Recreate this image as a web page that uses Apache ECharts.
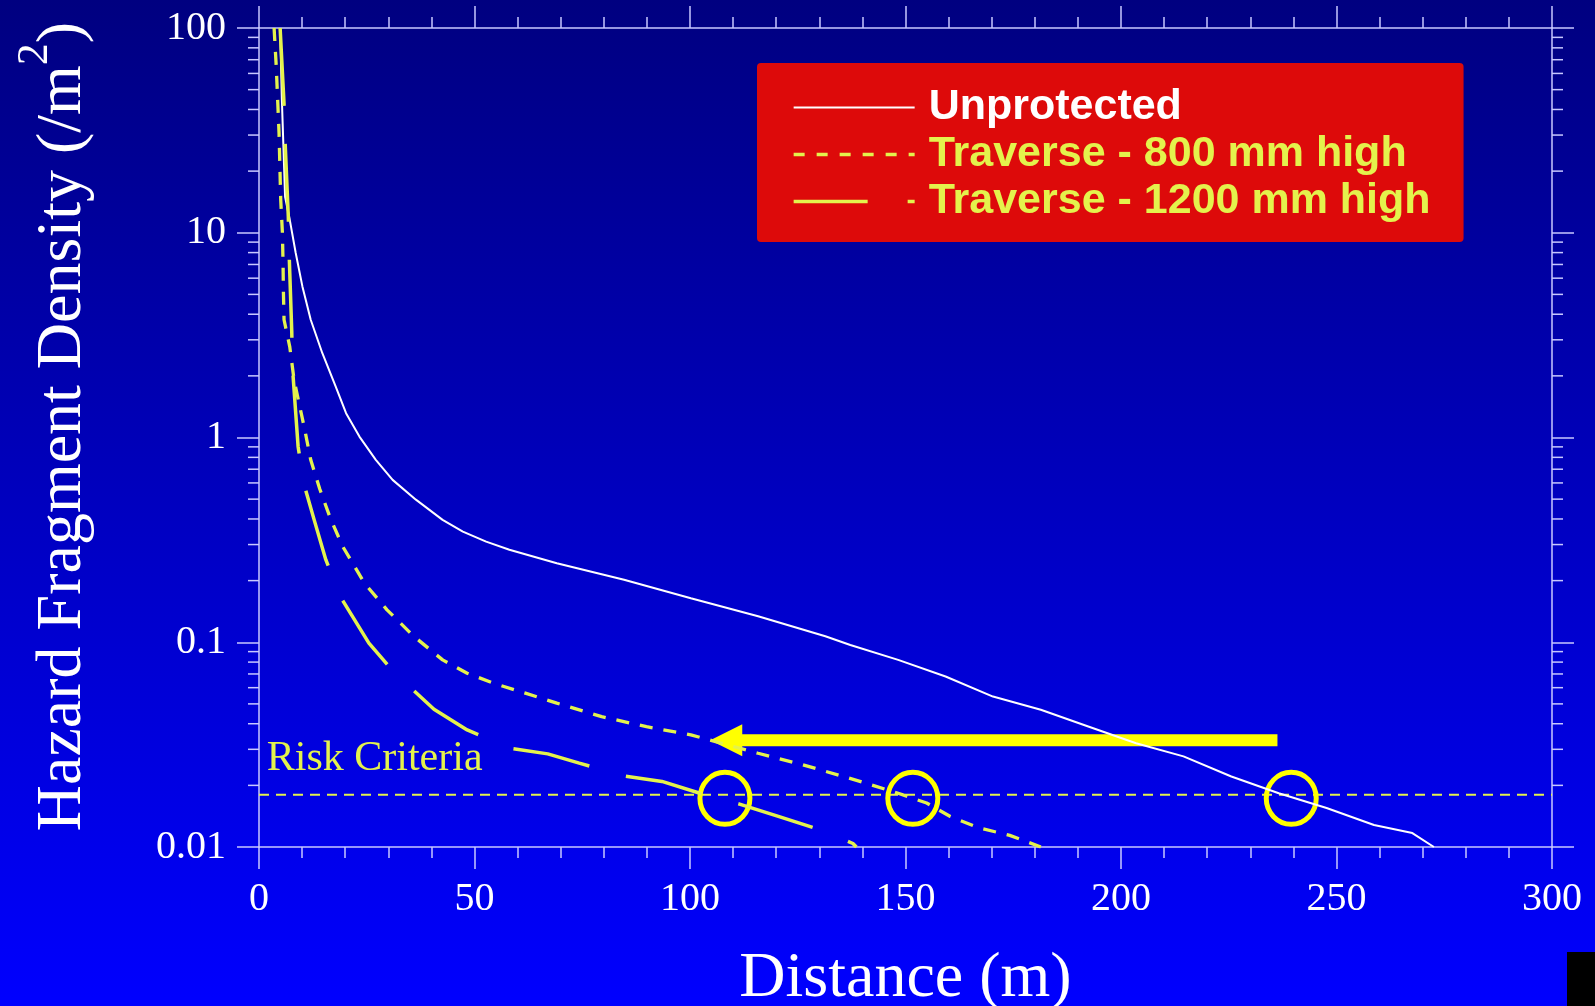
<!DOCTYPE html>
<html>
<head>
<meta charset="utf-8">
<script src="https://cdn.jsdelivr.net/npm/echarts@6/dist/echarts.min.js"></script>
<style>
html,body{margin:0;padding:0;background:#000080;}
#chart{width:1595px;height:1006px;}
</style>
</head>
<body>
<div id="chart"></div>
<script>
// ---- data ----
const distanceTicks = [0, 50, 100, 150, 200, 250, 300];
const densityTicks = [0.01, 0.1, 1, 10, 100];
const densityTickLabels = ['0.01', '0.1', '1', '10', '100'];
const densityMinorTicks = [0.02,0.03,0.04,0.05,0.06,0.07,0.08,0.09,
                           0.2,0.3,0.4,0.5,0.6,0.7,0.8,0.9,
                           2,3,4,5,6,7,8,9,
                           20,30,40,50,60,70,80,90];

const seriesNames = ['Unprotected', 'Traverse - 800 mm high', 'Traverse - 1200 mm high'];

const unprotectedDistance = [4.9,5.3,6.05,7.13,8.52,10.07,12.0,14.7,17.8,20.2,23.3,27.1,31.0,36.4,42.6,47.3,52.7,58.1,69.1,84.7,100.2,115.8,131.4,137.2,148.3,159.3,170.3,181.4,192.4,203.5,214.5,225.6,236.6,247.7,258.7,267.6,272.6];
const unprotectedDensity  = [100,45,15,11.6,7.96,5.47,3.76,2.58,1.77,1.315,1.01,0.778,0.621,0.497,0.396,0.347,0.31,0.283,0.243,0.202,0.164,0.134,0.107,0.097,0.082,0.068,0.0543,0.0468,0.0388,0.0321,0.0277,0.0221,0.0183,0.0155,0.0128,0.0117,0.01];

const traverse800Distance = [3.5,4.0,4.65,5.04,5.43,5.58,5.66,5.81,7.13,8.14,9.3,10.7,12.0,14.1,16.5,19.4,24.5,29.7,35.9,42.6,48.3,54.5,61.8,69.1,79.5,89.9,100.2,115.8,126.2,135.6,142.8,148.3,154.9,160.4,167,174.2,181.4];
const traverse800Density  = [100,65,30.7,14.5,10,7.1,5.17,3.76,2.78,1.91,1.47,1.07,0.778,0.56,0.406,0.294,0.194,0.144,0.107,0.082,0.0706,0.063,0.0564,0.0504,0.0433,0.0387,0.0353,0.0287,0.0252,0.0221,0.0199,0.0183,0.0164,0.0141,0.0124,0.0114,0.01];

const traverse1200Distance = [4.9,5.8,6.05,6.8,7.0,7.6,7.75,9.07,10.47,12.8,15.5,19.1,25.5,31.5,40.6,48.3,58.2,67,74.3,84.7,93.5,102.3,111.5,120.5,131.4,137.8,138.6];
const traverse1200Density  = [100,43,27.9,12,7.8,3.3,2.22,0.904,0.587,0.396,0.253,0.164,0.099,0.0706,0.0471,0.0373,0.0304,0.0285,0.0257,0.0222,0.0209,0.0183,0.0162,0.0141,0.0119,0.0104,0.01];

const riskCriterion = 0.018;
const riskLabelText = 'Risk Criteria';
const riskLabelDistance = 1.8;
const circledDistances = [108.1, 151.7, 239.5];
const circledDensity = 0.0173;
const arrowFromDistance = 236.3;
const arrowToDistance = 104.7;
const arrowDensity = 0.0332;

// ---- styles ----
const AXIS = '#c8c8ff';
const YEL = '#e4f24c';
const PURE_YEL = '#ffff00';
const SERIF = '"Liberation Serif","Times New Roman",serif';
const SANS = '"Liberation Sans",Arial,sans-serif';

const zip = (xs, ys) => xs.map((x, i) => [x, ys[i]]);
const xMin = distanceTicks[0], xMax = distanceTicks[distanceTicks.length - 1];
const yMin = densityTicks[0], yMax = densityTicks[densityTicks.length - 1];

function yLabel(v) {
  let best = 0, bd = Infinity;
  densityTicks.forEach((t, i) => { const d = Math.abs(Math.log10(v) - Math.log10(t)); if (d < bd) { bd = d; best = i; } });
  return densityTickLabels[best];
}

const chart = echarts.init(document.getElementById('chart'), null, {renderer: 'canvas'});

const xAxisCommon = {
  type: 'value', min: xMin, max: xMax, interval: 50,
  axisLine: {show: true, onZero: false, lineStyle: {color: AXIS, width: 1.5}},
  axisTick: {show: true, inside: false, length: 22, lineStyle: {color: AXIS, width: 1.5}},
  minorTick: {show: true, splitNumber: 5, length: 11, lineStyle: {color: AXIS, width: 1.5}},
  splitLine: {show: false}, minorSplitLine: {show: false}
};
const yAxisCommon = {
  type: 'log', logBase: 10, min: yMin, max: yMax, splitNumber: 4,
  axisLine: {show: true, onZero: false, lineStyle: {color: AXIS, width: 1.5}},
  axisTick: {show: true, inside: false, length: 22, lineStyle: {color: AXIS, width: 1.5}},
  splitLine: {show: false}
};

const option = {
  animation: false,
  backgroundColor: {
    type: 'linear', x: 0, y: 0, x2: 0, y2: 1,
    colorStops: [{offset: 0, color: '#000080'}, {offset: 1, color: '#0000ff'}]
  },
  grid: {left: 259, top: 28, width: 1293, height: 819, containLabel: false, outerBoundsMode: 'none'},
  legend: {
    orient: 'vertical', left: 757, top: 63,
    padding: [21, 33, 17, 35],
    backgroundColor: '#dd0a0a', borderRadius: 4,
    itemWidth: 121, itemHeight: 14, itemGap: 0,
    selectedMode: false,
    itemStyle: {opacity: 0},
    textStyle: {fontFamily: SANS, fontWeight: 'bold', fontSize: 43, lineHeight: 47, padding: [0, 0, 0, 9]},
    data: [
      {name: seriesNames[0], textStyle: {color: '#ffffff'}, itemStyle: {opacity: 0}, lineStyle: {width: 2, color: '#ffffff', type: 'solid'}},
      {name: seriesNames[1], textStyle: {color: YEL}, itemStyle: {opacity: 0}, lineStyle: {width: 3.3, color: YEL, type: [11, 12]}},
      {name: seriesNames[2], textStyle: {color: YEL}, itemStyle: {opacity: 0}, lineStyle: {width: 3.3, color: YEL, type: [74, 40]}}
    ]
  },
  xAxis: [
    Object.assign({}, xAxisCommon, {
      position: 'bottom',
      name: 'Distance (m)', nameLocation: 'middle', nameGap: 100,
      nameTextStyle: {color: '#ffffff', fontFamily: SERIF, fontSize: 64, lineHeight: 64},
      axisLabel: {show: true, color: '#ffffff', fontFamily: SERIF, fontSize: 40, lineHeight: 40, margin: 32}
    }),
    Object.assign({}, xAxisCommon, {position: 'top', axisLabel: {show: false}})
  ],
  yAxis: [
    Object.assign({}, yAxisCommon, {
      position: 'left',
      name: 'Hazard Fragment Density (/m{sup|2})', nameLocation: 'middle', nameRotate: 90, nameGap: 146,
      nameTextStyle: {
        color: '#ffffff', fontFamily: SERIF, fontSize: 64, lineHeight: 100, padding: [0, 0, 0, 22],
        rich: {sup: {color: '#ffffff', fontFamily: SERIF, fontSize: 44, lineHeight: 30, verticalAlign: 'top'}}
      },
      axisLabel: {show: true, color: '#ffffff', fontFamily: SERIF, fontSize: 40, margin: 33, formatter: yLabel}
    }),
    Object.assign({}, yAxisCommon, {position: 'right', axisLabel: {show: false}})
  ],
  graphic: [
    {type: 'rect', right: 0, bottom: 0, shape: {width: 28, height: 54}, style: {fill: '#000000'}}
  ],
  series: [
    {
      name: 'risk', type: 'line', xAxisIndex: 0, yAxisIndex: 0, z: 2,
      data: [[xMin, riskCriterion], [xMax, riskCriterion]],
      symbol: 'none', silent: true,
      lineStyle: {color: YEL, width: 2, type: [10, 7]}
    },
    {
      name: 'riskLabel', type: 'custom', xAxisIndex: 0, yAxisIndex: 0, z: 2, silent: true, clip: false,
      data: [[riskLabelDistance, riskCriterion]],
      renderItem: (params, api) => {
        const p = api.coord([api.value(0), api.value(1)]);
        return {type: 'text', x: p[0], y: p[1] - 36,
          style: {text: riskLabelText, fill: YEL, font: '42px ' + SERIF, align: 'left', verticalAlign: 'middle'}};
      }
    },
    {
      name: 'arrow', type: 'custom', xAxisIndex: 0, yAxisIndex: 0, z: 3, silent: true,
      data: [[arrowFromDistance, arrowDensity, arrowToDistance]],
      renderItem: (params, api) => {
        const tail = api.coord([api.value(0), api.value(1)]);
        const tip = api.coord([api.value(2), api.value(1)]);
        const headLen = 32, headHalf = 16, shaftHalf = 6;
        const y = tip[1];
        return {type: 'group', children: [
          {type: 'rect', shape: {x: tip[0] + headLen - 1, y: y - shaftHalf, width: tail[0] - tip[0] - headLen + 1, height: shaftHalf * 2},
            style: {fill: PURE_YEL}},
          {type: 'polygon', shape: {points: [[tip[0], y], [tip[0] + headLen, y - headHalf], [tip[0] + headLen, y + headHalf]]},
            style: {fill: PURE_YEL}}
        ]};
      }
    },
    {
      name: 'circles', type: 'custom', xAxisIndex: 0, yAxisIndex: 0, z: 3, silent: true,
      data: circledDistances.map(d => [d, circledDensity]),
      renderItem: (params, api) => {
        const p = api.coord([api.value(0), api.value(1)]);
        return {type: 'ellipse', shape: {cx: p[0], cy: p[1], rx: 25, ry: 26},
          style: {fill: 'none', stroke: PURE_YEL, lineWidth: 5}};
      }
    },
    {
      name: seriesNames[0], type: 'line', xAxisIndex: 0, yAxisIndex: 0, z: 4,
      data: zip(unprotectedDistance, unprotectedDensity),
      symbol: 'none', showSymbol: false, silent: true,
      itemStyle: {color: '#ffffff'},
      lineStyle: {color: '#ffffff', width: 2}
    },
    {
      name: seriesNames[1], type: 'line', xAxisIndex: 0, yAxisIndex: 0, z: 4,
      data: zip(traverse800Distance, traverse800Density),
      symbol: 'none', showSymbol: false, silent: true,
      itemStyle: {color: YEL},
      lineStyle: {color: YEL, width: 3.3, type: [13, 11]}
    },
    {
      name: seriesNames[2], type: 'line', xAxisIndex: 0, yAxisIndex: 0, z: 4,
      data: zip(traverse1200Distance, traverse1200Density),
      symbol: 'none', showSymbol: false, silent: true,
      itemStyle: {color: YEL},
      lineStyle: {color: YEL, width: 3.5, type: [78, 38]}
    },
    {
      name: 'yMinorTicks', type: 'custom', xAxisIndex: 0, yAxisIndex: 0, z: 5, silent: true, clip: false,
      data: densityMinorTicks.map(v => [xMin, v]),
      renderItem: (params, api) => {
        const v = api.value(1);
        const l = api.coord([xMin, v]);
        const r = api.coord([xMax, v]);
        const st = {stroke: AXIS, lineWidth: 1.5};
        return {type: 'group', children: [
          {type: 'line', shape: {x1: l[0] - 11, y1: l[1], x2: l[0], y2: l[1]}, style: st},
          {type: 'line', shape: {x1: r[0], y1: r[1], x2: r[0] + 11, y2: r[1]}, style: st}
        ]};
      }
    }
  ]
};
chart.setOption(option);
</script>
</body>
</html>
